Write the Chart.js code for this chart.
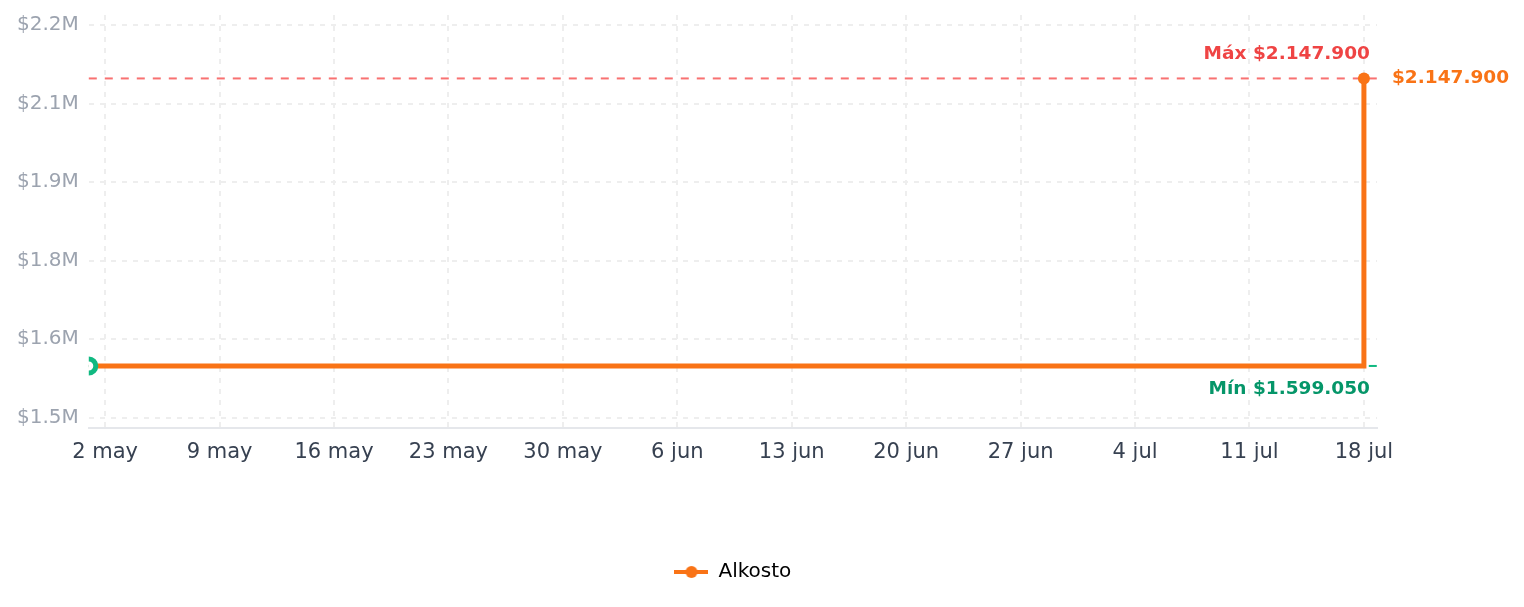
<!DOCTYPE html>
<html lang="es">
<head>
<meta charset="utf-8">
<title>Historial de precio</title>
<script src="https://cdn.jsdelivr.net/npm/chart.js@4.4.1/dist/chart.umd.min.js"></script>
<style>
    html, body { margin: 0; padding: 0; background: #ffffff; }
    #contenedor { width: 1524px; height: 607px; position: relative; }
</style>
</head>
<body>
<div id="contenedor"><canvas id="grafico-precio"></canvas></div>
<script>
// Datos del gráfico (días contados desde el 2 de mayo)
const diasPrecio = [-1, 77];
const preciosAlkosto = [1599050, 2147900];
const nombreTienda = 'Alkosto';

// Marcas del eje X
const diasEtiquetas = [0, 7, 14, 21, 28, 35, 42, 49, 56, 63, 70, 77];
const etiquetasX = ['2 may', '9 may', '16 may', '23 may', '30 may', '6 jun', '13 jun', '20 jun', '27 jun', '4 jul', '11 jul', '18 jul'];

// Marcas del eje Y
const valoresY = [1500000, 1650000, 1800000, 1950000, 2100000, 2250000];
const etiquetasY = ['$1.5M', '$1.6M', '$1.8M', '$1.9M', '$2.1M', '$2.2M'];

// Precio máximo y mínimo
const precioMax = 2147900;
const precioMin = 1599050;
const textoMax = 'Máx $2.147.900';
const textoMin = 'Mín $1.599.050';
const textoUltimo = '$2.147.900';

const NARANJA = '#f97316';
const VERDE = '#10b981';

document.addEventListener('DOMContentLoaded', function () {
    const puntos = diasPrecio.map((d, i) => ({ x: d, y: preciosAlkosto[i] }));
    const ultimo = puntos.length - 1;

    // Icono de la leyenda: línea con punto
    const icono = document.createElement('canvas');
    icono.width = 34;
    icono.height = 14;
    const ictx = icono.getContext('2d');
    ictx.strokeStyle = NARANJA;
    ictx.lineWidth = 4;
    ictx.beginPath();
    ictx.moveTo(0, 7);
    ictx.lineTo(34, 7);
    ictx.stroke();
    ictx.fillStyle = NARANJA;
    ictx.beginPath();
    ictx.arc(17, 7, 6, 0, Math.PI * 2);
    ictx.fill();

    // Centrar la leyenda sobre el área del gráfico
    const leyendaCentrada = {
        id: 'leyendaCentrada',
        afterLayout(chart) {
            const legend = chart.legend;
            if (!legend) return;
            const area = chart.chartArea;
            const shift = (area.left + area.right) / 2 - (legend.left + legend.right) / 2;
            legend.left += shift;
            legend.right += shift;
        }
    };

    // Líneas de máximo / mínimo y etiquetas
    const lineasPrecio = {
        id: 'lineasPrecio',
        beforeDatasetsDraw(chart) {
            const { ctx, chartArea, scales } = chart;
            const yMax = scales.y.getPixelForValue(precioMax);
            const yMin = scales.y.getPixelForValue(precioMin);
            ctx.save();
            ctx.lineWidth = 2;
            ctx.setLineDash([8, 8]);
            ctx.strokeStyle = '#f87171';
            ctx.beginPath();
            ctx.moveTo(chartArea.left, yMax);
            ctx.lineTo(chartArea.right, yMax);
            ctx.stroke();
            ctx.strokeStyle = VERDE;
            ctx.beginPath();
            ctx.moveTo(chartArea.left, yMin);
            ctx.lineTo(chartArea.right, yMin);
            ctx.stroke();
            ctx.restore();
        },
        afterDatasetsDraw(chart) {
            const { ctx, chartArea, scales } = chart;
            const yMax = scales.y.getPixelForValue(precioMax);
            const yMin = scales.y.getPixelForValue(precioMin);
            const xFin = scales.x.getPixelForValue(diasPrecio[ultimo]);
            ctx.save();
            ctx.font = 'bold 18.5px "DejaVu Sans", sans-serif';
            ctx.textBaseline = 'middle';
            ctx.textAlign = 'right';
            ctx.fillStyle = '#ef4444';
            ctx.fillText(textoMax, xFin + 6, yMax - 24);
            ctx.fillStyle = '#059669';
            ctx.fillText(textoMin, xFin + 6, yMin + 23);
            ctx.textAlign = 'left';
            ctx.fillStyle = NARANJA;
            ctx.fillText(textoUltimo, chartArea.right + 15, scales.y.getPixelForValue(preciosAlkosto[ultimo]));
            ctx.restore();
        }
    };

    const ctx = document.getElementById('grafico-precio').getContext('2d');
    new Chart(ctx, {
        type: 'line',
        data: {
            datasets: [{
                label: nombreTienda,
                data: puntos,
                stepped: 'before',
                borderColor: NARANJA,
                backgroundColor: NARANJA,
                borderWidth: 5,
                fill: false,
                pointStyle: 'circle',
                pointRadius: c => (c.dataIndex === 0 ? 7 : c.dataIndex === ultimo ? 6 : 0),
                pointBorderWidth: c => (c.dataIndex === 0 ? 5 : 0),
                pointBorderColor: c => (c.dataIndex === 0 ? VERDE : NARANJA),
                pointBackgroundColor: c => (c.dataIndex === 0 ? '#ffffff' : NARANJA),
                pointHoverRadius: 6
            }]
        },
        options: {
            responsive: true,
            maintainAspectRatio: false,
            animation: false,
            layout: { padding: { top: 15, left: 7, right: 147, bottom: 15 } },
            scales: {
                x: {
                    type: 'linear',
                    min: -1,
                    max: 77.8,
                    afterBuildTicks: scale => {
                        scale.ticks = diasEtiquetas.map(v => ({ value: v }));
                    },
                    afterFit: scale => {
                        scale.height += 75;
                    },
                    ticks: {
                        autoSkip: false,
                        maxRotation: 0,
                        padding: 12,
                        color: '#374151',
                        font: { family: '"DejaVu Sans", sans-serif', size: 21 },
                        callback: (value, index) => etiquetasX[index]
                    },
                    grid: { color: '#eeeeee', lineWidth: 2, drawTicks: false },
                    border: { display: true, color: '#e5e7eb', width: 2, dash: [5, 6] }
                },
                y: {
                    min: 1481000,
                    max: 2269000,
                    afterBuildTicks: scale => {
                        scale.ticks = valoresY.map(v => ({ value: v }));
                    },
                    afterFit: scale => {
                        scale.paddingTop = 0;
                        scale.paddingBottom = 0;
                    },
                    ticks: {
                        padding: 10,
                        color: '#9ca3af',
                        font: { family: '"DejaVu Sans", sans-serif', size: 20 },
                        callback: (value, index) => etiquetasY[index]
                    },
                    grid: { color: '#eeeeee', lineWidth: 2, drawTicks: false },
                    border: { display: false, dash: [5, 6] }
                }
            },
            plugins: {
                legend: {
                    position: 'bottom',
                    labels: {
                        color: '#111111',
                        font: { family: '"DejaVu Sans", sans-serif', size: 20 },
                        usePointStyle: true,
                        pointStyleWidth: 34,
                        padding: 10,
                        generateLabels: chart => [{
                            text: nombreTienda,
                            pointStyle: icono,
                            fillStyle: NARANJA,
                            strokeStyle: NARANJA,
                            lineWidth: 0,
                            hidden: false,
                            datasetIndex: 0
                        }]
                    }
                },
                tooltip: { enabled: false }
            }
        },
        plugins: [leyendaCentrada, lineasPrecio]
    });
});
</script>
</body>
</html>
